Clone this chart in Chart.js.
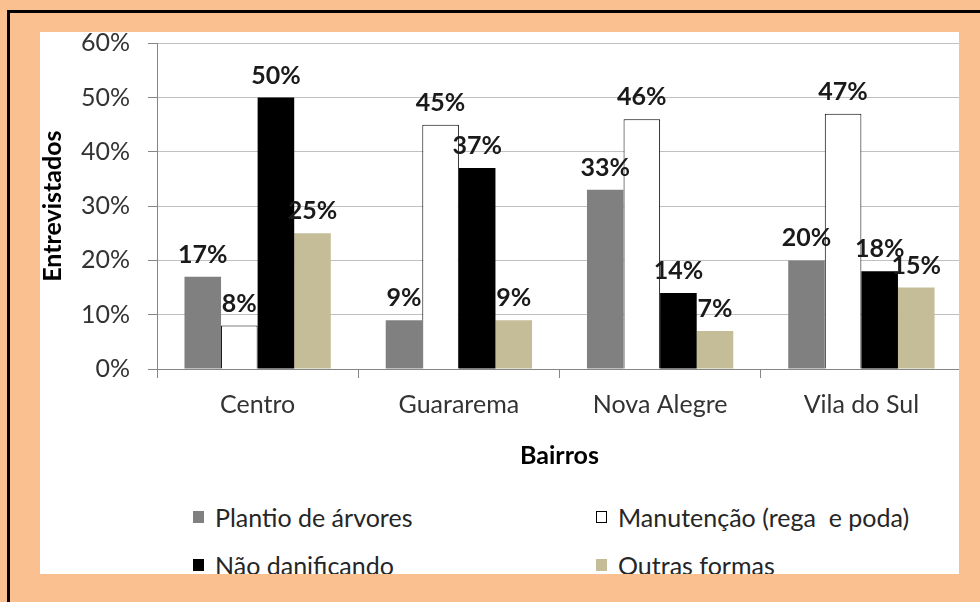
<!DOCTYPE html>
<html>
<head>
<meta charset="utf-8">
<script src="https://cdn.jsdelivr.net/npm/chart.js@4.4.1/dist/chart.umd.min.js"></script>
<style>
  body { margin: 0; width: 980px; height: 602px; background: #FAC090; position: relative; overflow: hidden; font-family: Lato, sans-serif; }
  .linha { position: absolute; background: #000; }
  #painel { position: absolute; left: 40px; top: 32px; width: 919px; height: 542px; background: #fff; overflow: hidden; }
  #caixaGrafico { position: absolute; left: 0; top: -18px; width: 925px; height: 458px; }
  .leg { position: absolute; display: flex; align-items: center; font-size: 25px; color: #262626; white-space: pre; }
  .leg span.q { display: inline-block; width: 11px; height: 12px; margin-right: 11px; box-sizing: border-box; }
</style>
</head>
<body>
<div class="linha" style="left:7px;top:10px;width:973px;height:3px"></div>
<div class="linha" style="left:7px;top:10px;width:3px;height:592px"></div>
<div id="painel">
  <div id="caixaGrafico"><canvas id="graficoBairros"></canvas></div>
</div>
<script>
// Dados
const bairros = ['Centro', 'Guararema', 'Nova Alegre', 'Vila do Sul'];
const plantio = [17, 9, 33, 20];
const manutencao = [8, 45, 46, 47];
const naoDanificando = [50, 37, 14, 18];
const outrasFormas = [25, 9, 7, 15];
const series = ['Plantio de árvores', 'Manutenção (rega  e poda)', 'Não danificando', 'Outras formas'];
const ticksY = [0, 10, 20, 30, 40, 50, 60];

const cores = ['#808080', '#FFFFFF', '#000000', '#C4BD97'];

Chart.defaults.font.family = 'Lato';

// rótulos de porcentagem em cima das barras
const rotulos = {
  id: 'rotulos',
  afterDatasetsDraw(chart) {
    const ctx = chart.ctx;
    ctx.save();
    ctx.font = 'bold 25px Lato';
    ctx.fillStyle = '#1a1a1a';
    ctx.textAlign = 'center';
    ctx.textBaseline = 'alphabetic';
    chart.data.datasets.forEach((ds, i) => {
      chart.getDatasetMeta(i).data.forEach((bar, j) => {
        ctx.fillText(ds.data[j] + '%', bar.x, bar.y - 14);
      });
    });
    ctx.restore();
  }
};

const valores = [plantio, manutencao, naoDanificando, outrasFormas];

const config = {
  type: 'bar',
  data: {
    labels: bairros,
    datasets: series.map((nome, i) => ({
      label: nome,
      data: valores[i],
      backgroundColor: cores[i],
      borderColor: '#000000',
      borderWidth: i === 1 ? 1 : 0,
      categoryPercentage: 0.727,
      barPercentage: 1.0
    }))
  },
  options: {
    responsive: true,
    maintainAspectRatio: false,
    animation: false,
    layout: { padding: { left: 0, top: 11, right: 3, bottom: 0 } },
    plugins: {
      legend: { display: false },
      tooltip: { enabled: false }
    },
    scales: {
      x: {
        grid: {
          offset: true,
          drawOnChartArea: false,
          drawTicks: true,
          tickLength: 9,
          tickColor: '#868686'
        },
        border: { color: '#868686', width: 1 },
        ticks: { font: { size: 25 }, color: '#333333', padding: 12 },
        title: { display: true, text: 'Bairros', color: '#000', font: { size: 25, weight: 'bold', lineHeight: 1.2 }, padding: { top: 0, bottom: 1 } },
        afterFit(scale) { scale.height = 103; }
      },
      y: {
        min: ticksY[0],
        max: ticksY[ticksY.length - 1],
        ticks: {
          stepSize: 10,
          font: { size: 25, lineHeight: 0.9 },
          color: '#333333',
          padding: 18,
          callback: v => v + '%'
        },
        grid: {
          color: ctx => ctx.tick && ctx.tick.value === 0 ? '#868686' : '#C0C0C0',
          tickColor: '#868686',
          tickLength: 9
        },
        border: { color: '#868686', width: 1 },
        title: { display: true, text: 'Entrevistados', color: '#000', font: { size: 25, weight: 'bold', lineHeight: 1.0 }, padding: { top: 0, bottom: 0 } },
        afterFit(scale) { scale.width = 117; }
      }
    }
  },
  plugins: [rotulos]
};

const ctx = document.getElementById('graficoBairros').getContext('2d');
const graficoBairros = new Chart(ctx, config);

// legenda em duas colunas
const posLegenda = [[153, 485], [556, 485], [153, 533], [556, 533]];
const painel = document.getElementById('painel');
series.forEach((nome, i) => {
  const item = document.createElement('div');
  item.className = 'leg';
  item.style.left = posLegenda[i][0] + 'px';
  item.style.top = (posLegenda[i][1] - 15) + 'px';
  item.style.height = '30px';
  const q = document.createElement('span');
  q.className = 'q';
  q.style.background = cores[i];
  if (i === 1) q.style.border = '1px solid #000';
  item.appendChild(q);
  item.appendChild(document.createTextNode(nome));
  painel.appendChild(item);
});
</script>
</body>
</html>
